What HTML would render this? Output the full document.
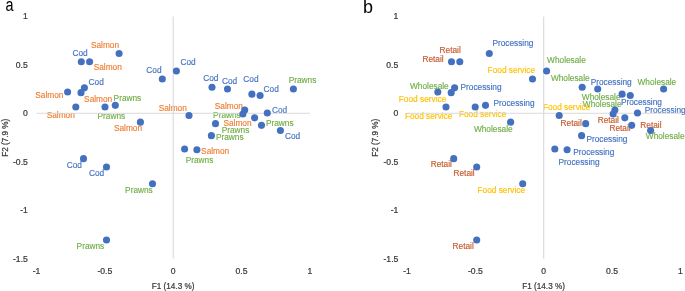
<!DOCTYPE html>
<html><head><meta charset="utf-8"><style>
html,body{margin:0;padding:0;background:#fff;}
body{width:685px;height:291px;overflow:hidden;}
svg{display:block;will-change:transform;font-family:"Liberation Sans",sans-serif;}
</style></head><body>
<svg width="685" height="291" viewBox="0 0 685 291">

<g font-size="8.6" fill="#383838" stroke="#383838" stroke-width="0.22">
<text x="27.8" y="19.4" text-anchor="end">1</text>
<text x="27.8" y="67.9" text-anchor="end">0.5</text>
<text x="27.8" y="116.4" text-anchor="end">0</text>
<text x="27.8" y="164.9" text-anchor="end">-0.5</text>
<text x="27.8" y="213.4" text-anchor="end">-1</text>
<text x="27.8" y="261.9" text-anchor="end">-1.5</text>
<text x="36.5" y="274.2" text-anchor="middle">-1</text>
<text x="104.8" y="274.2" text-anchor="middle">-0.5</text>
<text x="173.2" y="274.2" text-anchor="middle">0</text>
<text x="241.5" y="274.2" text-anchor="middle">0.5</text>
<text x="309.9" y="274.2" text-anchor="middle">1</text>
<text transform="translate(173.1,288.7) scale(0.95,1)" text-anchor="middle">F1 (14.3 %)</text>
<text transform="translate(7.7,137.7) rotate(-90) scale(0.95,1)" text-anchor="middle">F2 (7.9 %)</text>
<text x="398.3" y="19.4" text-anchor="end">1</text>
<text x="398.3" y="67.9" text-anchor="end">0.5</text>
<text x="398.3" y="116.4" text-anchor="end">0</text>
<text x="398.3" y="164.9" text-anchor="end">-0.5</text>
<text x="398.3" y="213.4" text-anchor="end">-1</text>
<text x="398.3" y="261.9" text-anchor="end">-1.5</text>
<text x="407.0" y="274.2" text-anchor="middle">-1</text>
<text x="475.4" y="274.2" text-anchor="middle">-0.5</text>
<text x="543.7" y="274.2" text-anchor="middle">0</text>
<text x="612.0" y="274.2" text-anchor="middle">0.5</text>
<text x="680.4" y="274.2" text-anchor="middle">1</text>
<text transform="translate(543.6,288.7) scale(0.95,1)" text-anchor="middle">F1 (14.3 %)</text>
<text transform="translate(378.2,137.7) rotate(-90) scale(0.95,1)" text-anchor="middle">F2 (7.9 %)</text>
</g>
<g font-size="8.3" stroke-width="0.15">
<text x="90.9" y="47.5" fill="#ED7D31" stroke="#ED7D31">Salmon</text>
<text x="72.4" y="56.0" fill="#4371C0" stroke="#4371C0">Cod</text>
<text x="93.7" y="69.7" fill="#ED7D31" stroke="#ED7D31">Salmon</text>
<text x="146.3" y="72.8" fill="#4371C0" stroke="#4371C0">Cod</text>
<text x="180.5" y="64.7" fill="#4371C0" stroke="#4371C0">Cod</text>
<text x="88.6" y="85.3" fill="#4371C0" stroke="#4371C0">Cod</text>
<text x="35.3" y="98.4" fill="#ED7D31" stroke="#ED7D31">Salmon</text>
<text x="84.1" y="102.0" fill="#ED7D31" stroke="#ED7D31">Salmon</text>
<text x="113.6" y="100.7" fill="#70AD47" stroke="#70AD47">Prawns</text>
<text x="46.7" y="117.5" fill="#ED7D31" stroke="#ED7D31">Salmon</text>
<text x="97.5" y="118.8" fill="#70AD47" stroke="#70AD47">Prawns</text>
<text x="113.9" y="130.9" fill="#ED7D31" stroke="#ED7D31">Salmon</text>
<text x="158.7" y="111.2" fill="#ED7D31" stroke="#ED7D31">Salmon</text>
<text x="203.2" y="80.9" fill="#4371C0" stroke="#4371C0">Cod</text>
<text x="221.9" y="83.5" fill="#4371C0" stroke="#4371C0">Cod</text>
<text x="243.3" y="81.9" fill="#4371C0" stroke="#4371C0">Cod</text>
<text x="263.6" y="91.8" fill="#4371C0" stroke="#4371C0">Cod</text>
<text x="288.7" y="82.9" fill="#70AD47" stroke="#70AD47">Prawns</text>
<text x="214.8" y="108.8" fill="#ED7D31" stroke="#ED7D31">Salmon</text>
<text x="213.1" y="117.5" fill="#70AD47" stroke="#70AD47">Prawns</text>
<text x="271.9" y="113.2" fill="#4371C0" stroke="#4371C0">Cod</text>
<text x="223.4" y="125.5" fill="#ED7D31" stroke="#ED7D31">Salmon</text>
<text x="265.9" y="125.8" fill="#70AD47" stroke="#70AD47">Prawns</text>
<text x="221.7" y="132.6" fill="#70AD47" stroke="#70AD47">Prawns</text>
<text x="284.9" y="139.0" fill="#4371C0" stroke="#4371C0">Cod</text>
<text x="215.9" y="139.5" fill="#70AD47" stroke="#70AD47">Prawns</text>
<text x="201.1" y="153.5" fill="#ED7D31" stroke="#ED7D31">Salmon</text>
<text x="185.7" y="162.5" fill="#70AD47" stroke="#70AD47">Prawns</text>
<text x="66.7" y="167.5" fill="#4371C0" stroke="#4371C0">Cod</text>
<text x="89.0" y="175.5" fill="#4371C0" stroke="#4371C0">Cod</text>
<text x="125.1" y="192.5" fill="#70AD47" stroke="#70AD47">Prawns</text>
<text x="76.6" y="248.9" fill="#70AD47" stroke="#70AD47">Prawns</text>
<text x="439.6" y="53.2" fill="#C4592B" stroke="#C4592B">Retail</text>
<text x="422.4" y="62.0" fill="#C4592B" stroke="#C4592B">Retail</text>
<text x="492.4" y="46.2" fill="#4371C0" stroke="#4371C0">Processing</text>
<text x="487.6" y="72.8" fill="#FFC000" stroke="#FFC000">Food service</text>
<text x="410.0" y="89.2" fill="#70AD47" stroke="#70AD47">Wholesale</text>
<text x="460.5" y="90.2" fill="#4371C0" stroke="#4371C0">Processing</text>
<text x="398.8" y="101.8" fill="#FFC000" stroke="#FFC000">Food service</text>
<text x="493.5" y="106.2" fill="#4371C0" stroke="#4371C0">Processing</text>
<text x="404.9" y="119.0" fill="#FFC000" stroke="#FFC000">Food service</text>
<text x="458.9" y="116.8" fill="#FFC000" stroke="#FFC000">Food service</text>
<text x="473.9" y="131.8" fill="#70AD47" stroke="#70AD47">Wholesale</text>
<text x="430.7" y="167.4" fill="#C4592B" stroke="#C4592B">Retail</text>
<text x="453.5" y="175.5" fill="#C4592B" stroke="#C4592B">Retail</text>
<text x="477.5" y="192.7" fill="#FFC000" stroke="#FFC000">Food service</text>
<text x="452.6" y="248.9" fill="#C4592B" stroke="#C4592B">Retail</text>
<text x="547.1" y="62.6" fill="#70AD47" stroke="#70AD47">Wholesale</text>
<text x="550.9" y="81.2" fill="#70AD47" stroke="#70AD47">Wholesale</text>
<text x="590.7" y="84.8" fill="#4371C0" stroke="#4371C0">Processing</text>
<text x="637.5" y="84.9" fill="#70AD47" stroke="#70AD47">Wholesale</text>
<text x="581.8" y="99.5" fill="#70AD47" stroke="#70AD47">Wholesale</text>
<text x="582.8" y="106.8" fill="#70AD47" stroke="#70AD47">Wholesale</text>
<text x="620.9" y="105.0" fill="#4371C0" stroke="#4371C0">Processing</text>
<text x="644.7" y="113.0" fill="#4371C0" stroke="#4371C0">Processing</text>
<text x="542.9" y="110.2" fill="#FFC000" stroke="#FFC000">Food service</text>
<text x="560.6" y="126.4" fill="#C4592B" stroke="#C4592B">Retail</text>
<text x="597.7" y="122.7" fill="#C4592B" stroke="#C4592B">Retail</text>
<text x="609.4" y="131.4" fill="#C4592B" stroke="#C4592B">Retail</text>
<text x="640.3" y="128.3" fill="#C4592B" stroke="#C4592B">Retail</text>
<text x="645.8" y="139.1" fill="#70AD47" stroke="#70AD47">Wholesale</text>
<text x="586.4" y="141.9" fill="#4371C0" stroke="#4371C0">Processing</text>
<text x="573.3" y="154.6" fill="#4371C0" stroke="#4371C0">Processing</text>
<text x="558.5" y="164.5" fill="#4371C0" stroke="#4371C0">Processing</text>
</g>
<line x1="36.5" y1="113.3" x2="309.9" y2="113.3" stroke="#D9D9D9" stroke-width="1.1"/>
<line x1="173.2" y1="16.4" x2="173.2" y2="258.8" stroke="#D9D9D9" stroke-width="1.1"/>
<line x1="407.0" y1="113.3" x2="680.4" y2="113.3" stroke="#D9D9D9" stroke-width="1.1"/>
<line x1="543.7" y1="16.4" x2="543.7" y2="258.8" stroke="#D9D9D9" stroke-width="1.1"/>
<g fill="#4371C0">
<circle cx="119.10" cy="53.45" r="3.55"/>
<circle cx="81.30" cy="61.75" r="3.55"/>
<circle cx="89.60" cy="61.75" r="3.55"/>
<circle cx="162.30" cy="78.95" r="3.55"/>
<circle cx="176.40" cy="71.05" r="3.55"/>
<circle cx="84.40" cy="87.85" r="3.55"/>
<circle cx="67.60" cy="91.95" r="3.55"/>
<circle cx="81.00" cy="92.65" r="3.55"/>
<circle cx="75.80" cy="107.05" r="3.55"/>
<circle cx="105.00" cy="107.05" r="3.55"/>
<circle cx="115.30" cy="105.35" r="3.55"/>
<circle cx="140.40" cy="122.15" r="3.55"/>
<circle cx="189.00" cy="115.45" r="3.55"/>
<circle cx="212.00" cy="87.25" r="3.55"/>
<circle cx="227.50" cy="88.95" r="3.55"/>
<circle cx="251.90" cy="94.15" r="3.55"/>
<circle cx="260.10" cy="95.55" r="3.55"/>
<circle cx="293.40" cy="88.95" r="3.55"/>
<circle cx="244.70" cy="109.95" r="3.55"/>
<circle cx="242.90" cy="114.05" r="3.55"/>
<circle cx="254.60" cy="117.85" r="3.55"/>
<circle cx="267.30" cy="113.05" r="3.55"/>
<circle cx="215.50" cy="123.65" r="3.55"/>
<circle cx="261.50" cy="125.35" r="3.55"/>
<circle cx="280.40" cy="130.55" r="3.55"/>
<circle cx="211.40" cy="135.65" r="3.55"/>
<circle cx="184.60" cy="149.05" r="3.55"/>
<circle cx="196.90" cy="149.75" r="3.55"/>
<circle cx="83.50" cy="158.65" r="3.55"/>
<circle cx="106.50" cy="166.95" r="3.55"/>
<circle cx="152.50" cy="183.75" r="3.55"/>
<circle cx="106.50" cy="240.00" r="3.55"/>
<circle cx="489.30" cy="53.45" r="3.55"/>
<circle cx="451.50" cy="61.75" r="3.55"/>
<circle cx="459.80" cy="61.75" r="3.55"/>
<circle cx="532.50" cy="78.95" r="3.55"/>
<circle cx="546.60" cy="71.05" r="3.55"/>
<circle cx="454.60" cy="87.85" r="3.55"/>
<circle cx="437.80" cy="91.95" r="3.55"/>
<circle cx="451.20" cy="92.65" r="3.55"/>
<circle cx="446.00" cy="107.05" r="3.55"/>
<circle cx="475.20" cy="107.05" r="3.55"/>
<circle cx="485.50" cy="105.35" r="3.55"/>
<circle cx="510.60" cy="122.15" r="3.55"/>
<circle cx="559.20" cy="115.45" r="3.55"/>
<circle cx="582.20" cy="87.25" r="3.55"/>
<circle cx="597.70" cy="88.95" r="3.55"/>
<circle cx="622.10" cy="94.15" r="3.55"/>
<circle cx="630.30" cy="95.55" r="3.55"/>
<circle cx="663.60" cy="88.95" r="3.55"/>
<circle cx="614.90" cy="109.95" r="3.55"/>
<circle cx="613.10" cy="114.05" r="3.55"/>
<circle cx="624.80" cy="117.85" r="3.55"/>
<circle cx="637.50" cy="113.05" r="3.55"/>
<circle cx="585.70" cy="123.65" r="3.55"/>
<circle cx="631.70" cy="125.35" r="3.55"/>
<circle cx="650.60" cy="130.55" r="3.55"/>
<circle cx="581.60" cy="135.65" r="3.55"/>
<circle cx="554.80" cy="149.05" r="3.55"/>
<circle cx="567.10" cy="149.75" r="3.55"/>
<circle cx="453.70" cy="158.65" r="3.55"/>
<circle cx="476.70" cy="166.95" r="3.55"/>
<circle cx="522.70" cy="183.75" r="3.55"/>
<circle cx="476.70" cy="240.00" r="3.55"/>
</g>
<text x="0" y="10.5" font-size="17.6" fill="#000" transform="translate(5.4,0) scale(0.82,1)">a</text>
<text x="363" y="13.1" font-size="18" fill="#000">b</text>
</svg></body></html>
